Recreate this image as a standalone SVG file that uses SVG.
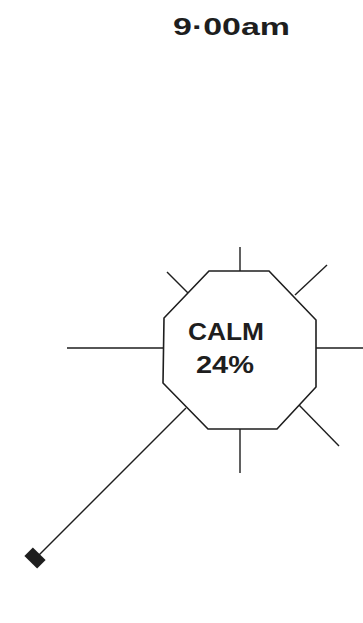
<svg xmlns="http://www.w3.org/2000/svg" width="363" height="623" viewBox="0 0 363 623">
<style>
.ln{stroke:#1e1e1e;stroke-width:1.4;fill:none;stroke-linecap:butt}
.oct{stroke:#1e1e1e;stroke-width:1.6;fill:#fff;stroke-linejoin:miter}
.t{font-family:"Liberation Sans",Arial,sans-serif;fill:#1e1e1e}
</style>
<rect width="363" height="623" fill="#fff"/>
<g id="time">
<text class="t" x="173" y="35" font-size="24" font-weight="bold" textLength="117" lengthAdjust="spacingAndGlyphs">9·00am</text>
</g>
<g id="connectors">
<line class="ln" x1="240" y1="247" x2="240" y2="271"/>
<line class="ln" x1="240" y1="429" x2="240" y2="473"/>
<line class="ln" x1="67" y1="348" x2="164" y2="348"/>
<line class="ln" x1="316" y1="348" x2="363" y2="348"/>
<line class="ln" x1="167" y1="272" x2="188" y2="293"/>
<line class="ln" x1="295" y1="295" x2="327" y2="265"/>
<line class="ln" x1="299" y1="405" x2="339" y2="446"/>
<line class="ln" x1="186" y1="408" x2="38" y2="556"/>
</g>
<g id="calm">
<polygon class="oct" points="209,271 269,271 316,320 316,387 277,429 208,429 163,383 164,318"/>
<text class="t" x="188" y="340" font-size="24" font-weight="bold" textLength="76" lengthAdjust="spacingAndGlyphs">CALM</text>
<text class="t" x="196" y="373" font-size="24" font-weight="bold" textLength="58" lengthAdjust="spacingAndGlyphs">24%</text>
</g>
<g id="marker">
<rect x="-9" y="-6" width="18" height="12" fill="#1e1e1e" transform="translate(35,558) rotate(45)"/>
</g>
</svg>
